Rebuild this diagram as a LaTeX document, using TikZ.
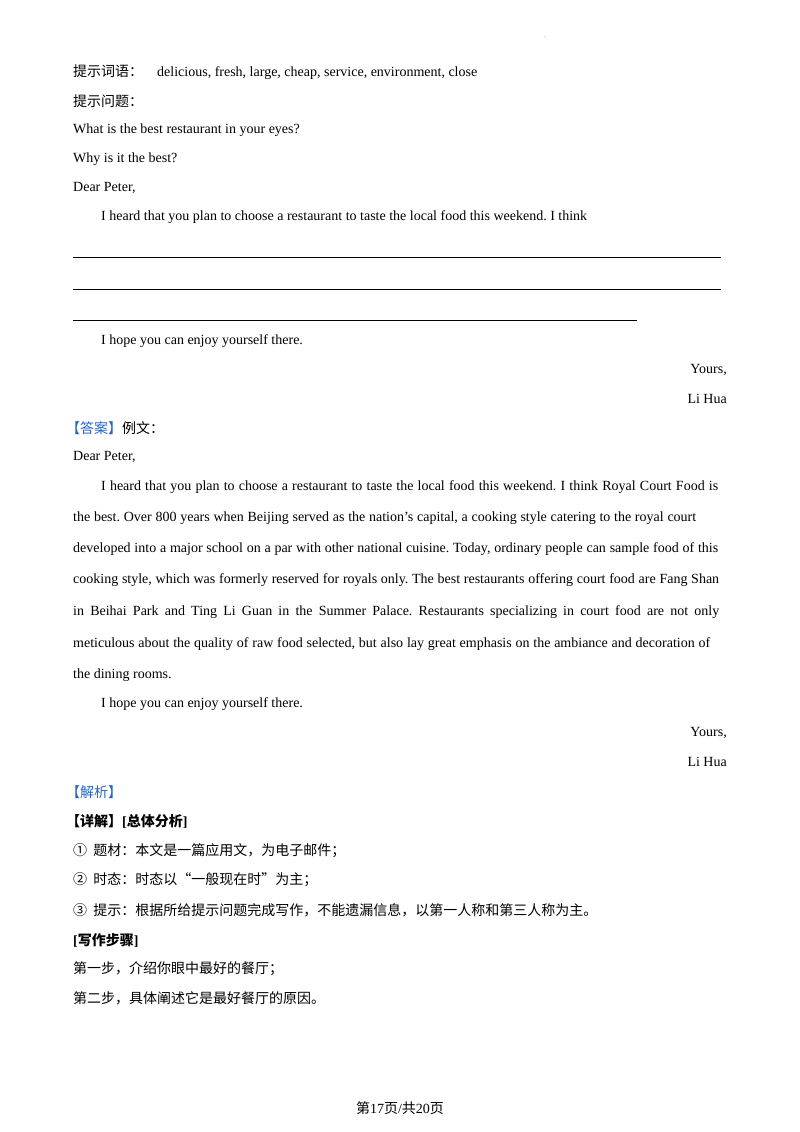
\documentclass[tikz,border=0pt]{standalone}
\usepackage{fontspec}
\setmainfont{Liberation Serif}
\newfontfamily\cjk{Noto Sans CJK SC}
\definecolor{ansblue}{RGB}{40,100,200}
\frenchspacing
\begin{document}
\begin{tikzpicture}[x=1pt,y=-1pt,
  tl/.style={anchor=west,inner sep=0pt,font=\fontsize{14}{16}\selectfont\frenchspacing},
  tr/.style={anchor=east,inner sep=0pt,font=\fontsize{14}{16}\selectfont},
  rule/.style={line width=0.6pt}]
\useasboundingbox[fill=white] (0,0) rectangle (800,1132);
\node[inner sep=0pt,font=\tiny] (dot) at (545,37) {.};
\node[tl] (l1) at (73,72) {{\cjk 提示词语：}\quad delicious, fresh, large, cheap, service, environment, close};
\node[tl] (l2) at (73,101) {\cjk 提示问题：};
\node[tl] (l3) at (73,130) {What is the best restaurant in your eyes?};
\node[tl] (l4) at (73,159) {Why is it the best?};
\node[tl] (l5) at (73,188) {Dear Peter,};
\node[tl] (l6) at (101,217) {I heard that you plan to choose a restaurant to taste the local food this weekend. I think};
\coordinate (r1a) at (73,257); \coordinate (r1b) at (721,257);
\coordinate (r2a) at (73,289); \coordinate (r2b) at (721,289);
\coordinate (r3a) at (73,320); \coordinate (r3b) at (637,320);
\draw[rule] (r1a)--(r1b); \draw[rule] (r2a)--(r2b); \draw[rule] (r3a)--(r3b);
\node[tl] (l7) at (101,341) {I hope you can enjoy yourself there.};
\node[tr] (l8) at (727,370) {Yours,};
\node[tr] (l9) at (727,399) {Li Hua};
\node[tl] (a0) at (66,428) {{\cjk\color{ansblue}【答案】}{\cjk 例文：}};
\node[tl] (a1) at (73,457) {Dear Peter,};
\node[tl] (a2) at (101,487) {\hbox to 617pt{I heard that you plan to choose a restaurant to taste the local food this weekend. I think Royal Court Food is}};
\node[tl] (a3) at (73,518) {\hbox to 623pt{the best. Over 800 years when Beijing served as the nation’s capital, a cooking style catering to the royal court}};
\node[tl] (a4) at (73,549) {\hbox to 645pt{developed into a major school on a par with other national cuisine. Today, ordinary people can sample food of this}};
\node[tl] (a5) at (73,580) {\hbox to 646pt{cooking style, which was formerly reserved for royals only. The best restaurants offering court food are Fang Shan}};
\node[tl] (a6) at (73,612) {\hbox to 646pt{in Beihai Park and Ting Li Guan in the Summer Palace. Restaurants specializing in court food are not only}};
\node[tl] (a7) at (73,644) {\hbox to 637pt{meticulous about the quality of raw food selected, but also lay great emphasis on the ambiance and decoration of}};
\node[tl] (a8) at (73,675) {the dining rooms.};
\node[tl] (a9) at (101,704) {I hope you can enjoy yourself there.};
\node[tr] (a10) at (727,733) {Yours,};
\node[tr] (a11) at (727,762) {Li Hua};
\node[tl] (j0) at (66,792) {\cjk\color{ansblue}【解析】};
\node[tl] (j1) at (66,821) {{\cjk\bfseries 【详解】}\textbf{[}{\cjk\bfseries 总体分析}\textbf{]}};
\node[tl] (j2) at (73,851) {\cjk ①\ \ 题材：本文是一篇应用文，为电子邮件；};
\node[tl] (j3) at (73,880) {\cjk ②\ \ 时态：时态以“一般现在时”为主；};
\node[tl] (j4) at (73,910) {\cjk ③\ \ 提示：根据所给提示问题完成写作，不能遗漏信息，以第一人称和第三人称为主。};
\node[tl] (j5) at (73,940) {\textbf{[}{\cjk\bfseries 写作步骤}\textbf{]}};
\node[tl] (j6) at (73,969) {\cjk 第一步，介绍你眼中最好的餐厅；};
\node[tl] (j7) at (73,998) {\cjk 第二步，具体阐述它是最好餐厅的原因。};
\node[inner sep=0pt,font=\fontsize{14}{16}\selectfont] (pg) at (400,1108) {{\cjk 第}17{\cjk 页}/{\cjk 共}20{\cjk 页}};
\end{tikzpicture}
\end{document}
